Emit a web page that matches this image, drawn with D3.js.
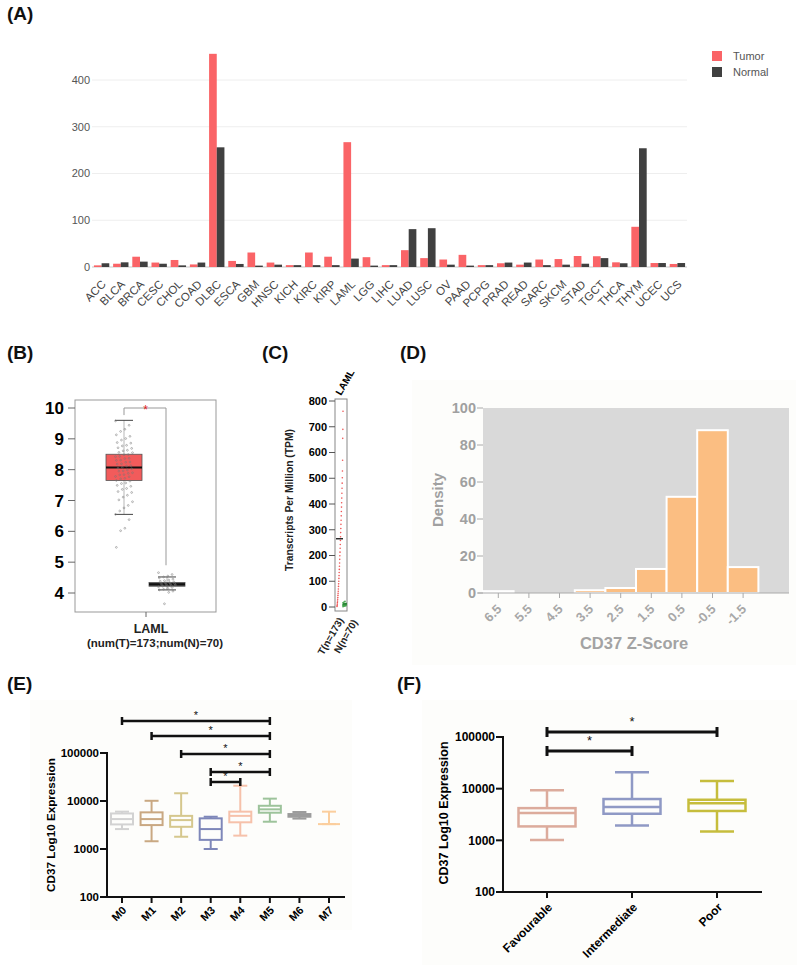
<!DOCTYPE html>
<html><head><meta charset="utf-8">
<script src="https://cdn.jsdelivr.net/npm/d3@7"></script>
<style>body{margin:0;background:#fff} svg{display:block;font-family:"Liberation Sans",Arial,sans-serif}</style>
</head><body><svg id="c" width="800" height="967"></svg>
<script>
// ---------------- DATA ----------------
// Panel A
const cancers = ["ACC","BLCA","BRCA","CESC","CHOL","COAD","DLBC","ESCA","GBM","HNSC","KICH","KIRC","KIRP","LAML","LGG","LIHC","LUAD","LUSC","OV","PAAD","PCPG","PRAD","READ","SARC","SKCM","STAD","TGCT","THCA","THYM","UCEC","UCS"];
const tumorTPM  = [3.5,7,22,9.5,15,5.5,456,13,31,9.5,4,31,22,267,21,4,36,19,16,26,4,8,5,16,17,23.5,23,10,86,8.5,6.5];
const normalTPM = [8,10,11.5,7,3.5,9.5,256,6.5,3,5,4,4,4,18,3,4,81,83,5,3,4,9.5,9.5,4,5,7,19,8,254,8.5,8.5];
const aTicks = [0,100,200,300,400];
const aSeries = ["Tumor","Normal"];

// Panel B (log2(TPM+1))
const bGroups = ["Tumor","Normal"];
const bMin = [6.55,4.10], bQ1 = [7.65,4.22], bMed = [8.07,4.28], bQ3 = [8.50,4.34], bMax = [9.60,4.52];
const bTicks = [4,5,6,7,8,9,10];
const bTumorPts = [9.58,9.44,9.31,9.24,9.13,9.08,9.01,8.96,8.88,8.86,8.79,8.77,8.71,8.69,8.63,8.61,8.56,8.55,8.49,8.48,8.43,8.42,8.37,8.36,8.31,8.3,8.25,8.24,8.19,8.18,8.13,8.12,8.08,8.05,8.03,7.99,7.96,7.95,7.9,7.88,7.84,7.83,7.78,7.77,7.72,7.7,7.65,7.63,7.57,7.55,7.49,7.46,7.39,7.36,7.29,7.26,7.17,7.11,7.02,6.96,6.84,6.76,6.66,6.55,6.38,6.1,6.02,5.48];
const bNormalPts = [4.66,4.6,4.55,4.52,4.49,4.45,4.42,4.4,4.38,4.36,4.34,4.33,4.31,4.3,4.29,4.28,4.27,4.26,4.25,4.24,4.22,4.2,4.18,4.15,4.12,4.1,4.06,4.02,3.65];

// Panel C (TPM)
const cTicks = [0,100,200,300,400,500,600,700,800];
const cTumorPts = [2,6,11,17,23,30,37,45,53,61,70,80,90,100,111,122,134,146,158,171,185,199,213,228,243,258,273,289,305,321,337,354,371,388,405,423,442,461,481,502,528,570,655,690,760];
const cNormalPts = [1,3,4,5,6,7,8,9,10,11,12,14,16,19,22];
const cTumorMedian = 265, cNormalMedian = 12;

// Panel D (histogram)
const zBins = [6.5,5.5,4.5,3.5,2.5,1.5,0.5,-0.5,-1.5];
const zDensity = [1,0,0,1.5,2.7,13,52,88,14];
const dTicks = [0,20,40,60,80,100];

// Panel E (FAB)
const fabGroups = ["M0","M1","M2","M3","M4","M5","M6","M7"];
const fabMax = [6000,10100,14500,4700,20800,11200,5900,6000];
const fabQ3  = [5500,5800,4900,4350,6000,7950,5350,3300];
const fabMed = [4200,4200,4000,2600,4900,6700,5100,3300];
const fabQ1  = [3250,3150,2900,1550,3600,5700,4700,3300];
const fabMin = [2600,1450,1800,1000,1900,3700,4300,3300];
const fabSig = [["M0","M5"],["M1","M5"],["M2","M5"],["M3","M5"],["M3","M4"]];
const logTicks = [100,1000,10000,100000];

// Panel F (risk)
const riskGroups = ["Favourable","Intermediate","Poor"];
const riskMax = [9300,20700,14100];
const riskQ3  = [4200,6300,6100];
const riskMed = [3370,4400,5250];
const riskQ1  = [1860,3270,3700];
const riskMin = [1020,1940,1480];
const riskSig = [["Favourable","Poor"],["Favourable","Intermediate"]];

// ---------------- DRAW ----------------
const svg = d3.select("#c");
svg.append("rect").attr("width",800).attr("height",967).attr("fill","#fff");
function label(t,x,y){svg.append("text").attr("x",x).attr("y",y).attr("font-size",19).attr("font-weight","bold").attr("fill","#111").text(t);}

// ===== Panel A =====
label("(A)",7,20);
const gA = svg.append("g");
const xA = d3.scaleBand().domain(cancers).range([92,687]).paddingInner(0.2).paddingOuter(0.1);
const xSub = d3.scaleBand().domain(aSeries).range([0,xA.bandwidth()]);
const yA = d3.scaleLinear().domain([0,400]).range([267,80]);
const colA = {Tumor:"#fa6467",Normal:"#404040"};
aTicks.forEach(t=>{
  gA.append("line").attr("x1",92).attr("x2",687).attr("y1",yA(t)).attr("y2",yA(t))
    .attr("stroke",t===0?"#c8c8c8":"#eeeeee").attr("stroke-width",1);
  gA.append("text").attr("x",90).attr("y",yA(t)).attr("dy","0.35em").attr("text-anchor","end")
    .attr("font-size",11).attr("fill","#555").text(t);
});
cancers.forEach((c,i)=>{
  [["Tumor",tumorTPM[i]],["Normal",normalTPM[i]]].forEach(([s,v])=>{
    gA.append("rect").attr("x",xA(c)+xSub(s)).attr("width",xSub.bandwidth())
      .attr("y",yA(v)).attr("height",yA(0)-yA(v)).attr("fill",colA[s]);
  });
  const cx = xA(c)+xA.bandwidth()/2;
  gA.append("text").attr("transform",`translate(${cx+5},${285}) rotate(-45)`)
    .attr("text-anchor","end").attr("font-size",11.5).attr("fill","#444").text(c);
});
aSeries.forEach((s,i)=>{
  gA.append("rect").attr("x",712).attr("y",51+i*16).attr("width",10).attr("height",10).attr("fill",colA[s]);
  gA.append("text").attr("x",733).attr("y",60+i*16).attr("font-size",11).attr("fill","#555").text(s);
});

// ===== Panel B =====
label("(B)",7,359);
const gB = svg.append("g");
const yB = d3.scaleLinear().domain([4,10]).range([593,408]);
const xB = d3.scalePoint().domain(bGroups).range([124,167]);
gB.append("rect").attr("x",75).attr("y",400).attr("width",141).attr("height",212).attr("fill","none").attr("stroke","#999");
bTicks.forEach(t=>{
  gB.append("line").attr("x1",68).attr("x2",75).attr("y1",yB(t)).attr("y2",yB(t)).attr("stroke","#666");
  gB.append("text").attr("x",64).attr("y",yB(t)).attr("dy","0.36em").attr("text-anchor","end")
    .attr("font-size",17).attr("font-weight","bold").text(t);
});
gB.append("line").attr("x1",146).attr("x2",146).attr("y1",612).attr("y2",617).attr("stroke","#666");
gB.append("text").attr("x",151).attr("y",633).attr("text-anchor","middle").attr("font-size",12.5).attr("font-weight","bold").attr("fill","#222").text("LAML");
gB.append("text").attr("x",155).attr("y",647).attr("text-anchor","middle").attr("font-size",11.5).attr("font-weight","bold").attr("fill","#222").text("(num(T)=173;num(N)=70)");
const bFill = ["#f25b5b","#4a4a4a"];
bGroups.forEach((g,i)=>{
  const cx = xB(g), w = 36, cw = 18;
  gB.append("line").attr("x1",cx).attr("x2",cx).attr("y1",yB(bMax[i])).attr("y2",yB(bMin[i])).attr("stroke","#999").attr("stroke-width",0.7);
  [bMax[i],bMin[i]].forEach(v=>gB.append("line").attr("x1",cx-cw/2).attr("x2",cx+cw/2).attr("y1",yB(v)).attr("y2",yB(v)).attr("stroke","#444"));
  gB.append("rect").attr("x",cx-w/2).attr("width",w).attr("y",yB(bQ3[i])).attr("height",yB(bQ1[i])-yB(bQ3[i]))
    .attr("fill",bFill[i]).attr("stroke","#555").attr("stroke-width",0.8);
  gB.append("line").attr("x1",cx-w/2).attr("x2",cx+w/2).attr("y1",yB(bMed[i])).attr("y2",yB(bMed[i])).attr("stroke","#111").attr("stroke-width",2);
});
[[bTumorPts,"Tumor"],[bNormalPts,"Normal"]].forEach(([pts,g])=>{
  pts.forEach((v,i)=>{
    const off = (((i*37)%21)-10)*0.85;
    gB.append("circle").attr("cx",xB(g)+off).attr("cy",yB(v)).attr("r",0.9).attr("fill","none").attr("stroke","#777").attr("stroke-width",0.5);
  });
});
// significance bracket
gB.append("path").attr("d",`M${xB("Tumor")},${yB(9.77)}V${yB(10)}H${xB("Normal")-1}V${yB(4.9)}`)
  .attr("fill","none").attr("stroke","#999").attr("stroke-width",1);
gB.append("text").attr("x",(xB("Tumor")+xB("Normal"))/2).attr("y",yB(10)+6).attr("text-anchor","middle").attr("font-size",12).attr("fill","#e02020").text("*");

// ===== Panel C =====
label("(C)",262,359);
const gC = svg.append("g");
const yC = d3.scaleLinear().domain([0,800]).range([607,401]);
gC.append("rect").attr("x",335).attr("y",399).attr("width",12).attr("height",212).attr("fill","none").attr("stroke","#888");
cTicks.forEach(t=>{
  gC.append("line").attr("x1",329).attr("x2",335).attr("y1",yC(t)).attr("y2",yC(t)).attr("stroke","#555");
  gC.append("text").attr("x",327).attr("y",yC(t)).attr("dy","0.36em").attr("text-anchor","end").attr("font-size",11).attr("font-weight","bold").text(t);
});
gC.append("text").attr("transform","translate(293,500) rotate(-90)").attr("text-anchor","middle").attr("font-size",10.3).attr("font-weight","bold").attr("fill","#222").text("Transcripts Per Million (TPM)");
gC.append("text").attr("transform","translate(341,396) rotate(-60)").attr("font-size",10).attr("font-weight","bold").text("LAML");
gC.append("text").attr("transform","translate(344,620) rotate(-60)").attr("text-anchor","end").attr("font-size",10).attr("font-weight","bold").attr("fill","#222").text("T(n=173)");
gC.append("text").attr("transform","translate(358,622) rotate(-60)").attr("text-anchor","end").attr("font-size",10).attr("font-weight","bold").attr("fill","#222").text("N(n=70)");
cTumorPts.forEach((v,i)=>{
  gC.append("circle").attr("cx",337+6*i/(cTumorPts.length-1)).attr("cy",yC(v)).attr("r",0.8).attr("fill","#ef5555");
});
cNormalPts.forEach((v,i)=>{
  gC.append("circle").attr("cx",343+(i%4)).attr("cy",yC(v)).attr("r",0.8).attr("fill","#2f9a3a");
});
gC.append("line").attr("x1",336).attr("x2",343).attr("y1",yC(cTumorMedian)).attr("y2",yC(cTumorMedian)).attr("stroke","#111").attr("stroke-width",1.3);
gC.append("line").attr("x1",343).attr("x2",347).attr("y1",yC(cNormalMedian)).attr("y2",yC(cNormalMedian)).attr("stroke","#1c7a2a").attr("stroke-width",1.3);

// ===== Panel D =====
label("(D)",400,359);
const gD = svg.append("g");
gD.append("rect").attr("x",412).attr("y",380).attr("width",384).attr("height",285).attr("fill","#fdfdfb");
const xD = d3.scaleLinear().domain([7,-3]).range([483,789]);
const yD = d3.scaleLinear().domain([0,100]).range([593,408]);
gD.append("rect").attr("x",483).attr("y",408).attr("width",306).attr("height",185).attr("fill","#d9d9d9");
zBins.forEach((b,i)=>{
  if(zDensity[i]>0) gD.append("rect").attr("x",xD(b+0.5)).attr("width",xD(b-0.5)-xD(b+0.5))
    .attr("y",yD(zDensity[i])).attr("height",yD(0)-yD(zDensity[i]))
    .attr("fill","#fbbe82").attr("stroke","#fff").attr("stroke-width",2);
  gD.append("line").attr("x1",xD(b)).attr("x2",xD(b)).attr("y1",593).attr("y2",598).attr("stroke","#aaa");
  gD.append("text").attr("transform",`translate(${xD(b)+4},${610}) rotate(-45)`).attr("text-anchor","end")
    .attr("font-size",13).attr("font-weight","bold").attr("fill","#a8a8a8").text(b);
});
gD.append("line").attr("x1",478).attr("x2",789).attr("y1",593).attr("y2",593).attr("stroke","#aaa");
dTicks.forEach(t=>{
  gD.append("line").attr("x1",477).attr("x2",483).attr("y1",yD(t)).attr("y2",yD(t)).attr("stroke","#aaa");
  gD.append("text").attr("x",476).attr("y",yD(t)).attr("dy","0.36em").attr("text-anchor","end")
    .attr("font-size",14.5).attr("font-weight","bold").attr("fill","#a0a0a0").text(t);
});
gD.append("text").attr("transform","translate(443,500) rotate(-90)").attr("text-anchor","middle").attr("font-size",15).attr("font-weight","bold").attr("fill","#a0a0a0").text("Density");
gD.append("text").attr("x",634).attr("y",649).attr("text-anchor","middle").attr("font-size",16.5).attr("font-weight","bold").attr("fill","#a3a3a3").text("CD37 Z-Score");

// ===== shared box drawer =====
function drawBoxPanel(g, groups, stats, x, y, opt){
  groups.forEach((grp,i)=>{
    const cx = x(grp), w = opt.w, cw = opt.cw, col = opt.colors[i], sw = opt.sw;
    const s = stats(i);
    g.append("line").attr("x1",cx).attr("x2",cx).attr("y1",y(s.max)).attr("y2",y(s.q3)).attr("stroke",col).attr("stroke-width",sw);
    g.append("line").attr("x1",cx).attr("x2",cx).attr("y1",y(s.q1)).attr("y2",y(s.min)).attr("stroke",col).attr("stroke-width",sw);
    [s.max,s.min].forEach(v=>g.append("line").attr("x1",cx-cw/2).attr("x2",cx+cw/2).attr("y1",y(v)).attr("y2",y(v)).attr("stroke",col).attr("stroke-width",sw));
    g.append("rect").attr("x",cx-w/2).attr("width",w).attr("y",y(s.q3)).attr("height",Math.max(0,y(s.q1)-y(s.q3)))
      .attr("fill","none").attr("stroke",col).attr("stroke-width",sw);
    g.append("line").attr("x1",cx-w/2).attr("x2",cx+w/2).attr("y1",y(s.med)).attr("y2",y(s.med)).attr("stroke",col).attr("stroke-width",sw);
  });
}
function drawBrackets(g, pairs, x, levels, sw, tick, fs, starDy){
  pairs.forEach((p,i)=>{
    const x1 = x(p[0]), x2 = x(p[1]), yy = levels[i];
    g.append("line").attr("x1",x1).attr("x2",x2).attr("y1",yy).attr("y2",yy).attr("stroke","#111").attr("stroke-width",sw);
    [x1,x2].forEach(xx=>g.append("line").attr("x1",xx).attr("x2",xx).attr("y1",yy-tick).attr("y2",yy+tick).attr("stroke","#111").attr("stroke-width",sw));
    g.append("text").attr("x",(x1+x2)/2).attr("y",yy-starDy).attr("text-anchor","middle").attr("font-size",fs).attr("fill","#111").text("*");
  });
}

// ===== Panel E =====
label("(E)",7,690);
const gE = svg.append("g");
gE.append("rect").attr("x",30).attr("y",700).attr("width",322).attr("height",230).attr("fill","#fdfdfb");
const yE = d3.scaleLog().domain([100,100000]).range([897,753]);
const xE = d3.scalePoint().domain(fabGroups).range([122,329]);
drawBoxPanel(gE, fabGroups, i=>({max:fabMax[i],q3:fabQ3[i],med:fabMed[i],q1:fabQ1[i],min:fabMin[i]}), xE, yE,
  {w:22,cw:14,sw:2,colors:["#d2d2d2","#c9a882","#d5c78d","#7e87b9","#f6c1aa","#9dc39b","#9c9c9c","#fbce9d"]});
gE.append("line").attr("x1",107).attr("x2",107).attr("y1",752).attr("y2",898).attr("stroke","#111").attr("stroke-width",2);
gE.append("line").attr("x1",106).attr("x2",345).attr("y1",897).attr("y2",897).attr("stroke","#111").attr("stroke-width",2);
logTicks.forEach(t=>{
  gE.append("line").attr("x1",100).attr("x2",107).attr("y1",yE(t)).attr("y2",yE(t)).attr("stroke","#111").attr("stroke-width",2);
  gE.append("text").attr("x",99).attr("y",yE(t)).attr("dy","0.36em").attr("text-anchor","end").attr("font-size",11.5).attr("font-weight","bold").text(t);
});
fabGroups.forEach(g=>{
  gE.append("line").attr("x1",xE(g)).attr("x2",xE(g)).attr("y1",897).attr("y2",903).attr("stroke","#111").attr("stroke-width",2);
  gE.append("text").attr("transform",`translate(${xE(g)+5},${911}) rotate(-45)`).attr("text-anchor","end").attr("font-size",11).attr("font-weight","bold").text(g);
});
gE.append("text").attr("transform","translate(55,825) rotate(-90)").attr("text-anchor","middle").attr("font-size",11.7).attr("font-weight","bold").text("CD37 Log10 Expression");
drawBrackets(gE, fabSig, xE, [721,736,754,772,782], 2.5, 4, 11, 2);

// ===== Panel F =====
label("(F)",397,690);
const gF = svg.append("g");
gF.append("rect").attr("x",422).attr("y",700).attr("width",375).attr("height",265).attr("fill","#fdfdfb");
const yF = d3.scaleLog().domain([100,100000]).range([892,737]);
const xF = d3.scalePoint().domain(riskGroups).range([547,717]);
drawBoxPanel(gF, riskGroups, i=>({max:riskMax[i],q3:riskQ3[i],med:riskMed[i],q1:riskQ1[i],min:riskMin[i]}), xF, yF,
  {w:57,cw:34,sw:2.5,colors:["#dcab9c","#8f99c5","#c6bd3c"]});
gF.append("line").attr("x1",503).attr("x2",503).attr("y1",736).attr("y2",893).attr("stroke","#111").attr("stroke-width",2);
gF.append("line").attr("x1",502).attr("x2",762).attr("y1",892).attr("y2",892).attr("stroke","#111").attr("stroke-width",2);
logTicks.forEach(t=>{
  gF.append("line").attr("x1",496).attr("x2",503).attr("y1",yF(t)).attr("y2",yF(t)).attr("stroke","#111").attr("stroke-width",2);
  gF.append("text").attr("x",495).attr("y",yF(t)).attr("dy","0.36em").attr("text-anchor","end").attr("font-size",12).attr("font-weight","bold").text(t);
});
riskGroups.forEach(g=>{
  gF.append("line").attr("x1",xF(g)).attr("x2",xF(g)).attr("y1",892).attr("y2",898).attr("stroke","#111").attr("stroke-width",2);
  gF.append("text").attr("transform",`translate(${xF(g)+6},${908}) rotate(-45)`).attr("text-anchor","end").attr("font-size",12).attr("font-weight","bold").text(g);
});
gF.append("text").attr("transform","translate(448,813) rotate(-90)").attr("text-anchor","middle").attr("font-size",12.5).attr("font-weight","bold").text("CD37 Log10 Expression");
drawBrackets(gF, riskSig, xF, [732,751], 3, 5, 13, 6);
</script></body></html>
